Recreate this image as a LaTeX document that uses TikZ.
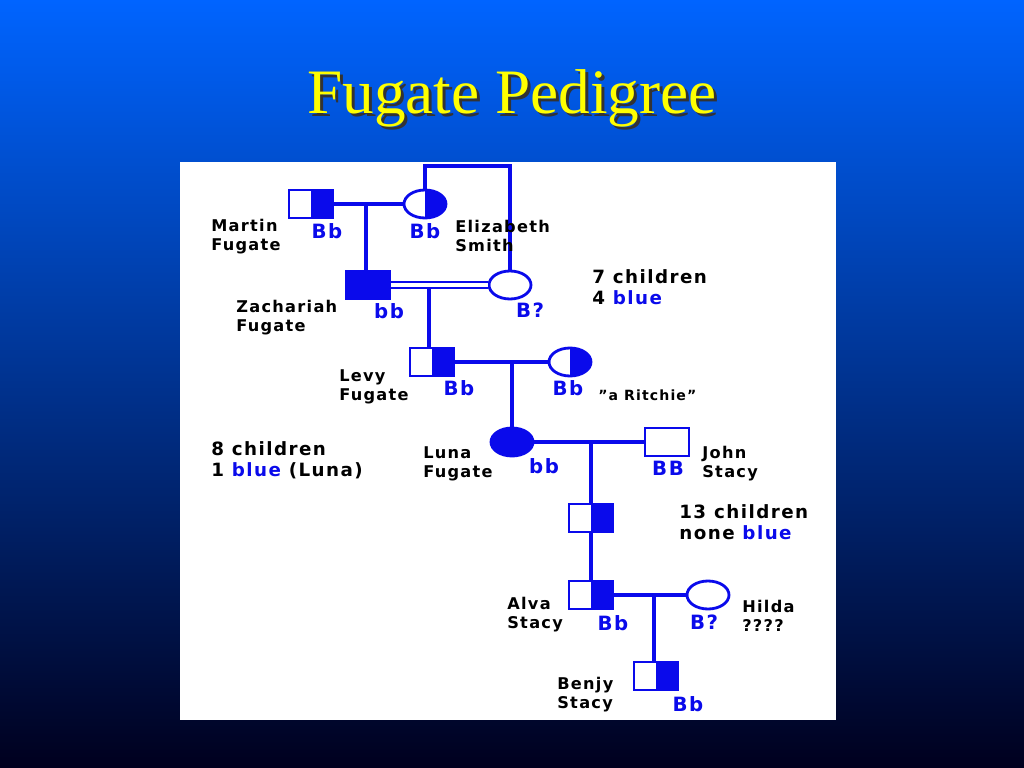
\documentclass[tikz,border=0pt]{standalone}
\usepackage{fontspec}
\setmainfont{Liberation Serif}
\setsansfont[LetterSpace=8]{DejaVu Sans}
\usetikzlibrary{positioning}
\usetikzlibrary{shapes.geometric}
\definecolor{pblue}{RGB}{10,10,235}
\definecolor{titley}{RGB}{255,255,0}
\tikzstyle{male} = [draw=pblue, rectangle, line width=2pt, minimum width=1.1cm, minimum height=0.7cm, inner sep=0]
\tikzstyle{female} = [draw=pblue, ellipse, line width=2pt, minimum width=1.05cm, minimum height=0.7cm, inner sep=0]
\tikzstyle{carrier} = [path picture={\fill[pblue] (path picture bounding box.north) rectangle (path picture bounding box.south east);}]
\tikzstyle{affected} = [fill=pblue]
\tikzstyle{who} = [anchor=west, align=left, font=\sffamily\bfseries\fontsize{11.5}{13.5}\selectfont, inner sep=0]
\tikzstyle{gene} = [text=pblue, font=\sffamily\bfseries\fontsize{14}{14}\selectfont, inner sep=0]
\tikzstyle{link} = [draw=pblue, line width=3pt]

\begin{document}
\begin{tikzpicture}[x=0.025cm, y=-0.025cm]
    \useasboundingbox (0,0) rectangle (1024,768);
    \shade[top color={rgb,255:red,0;green,100;blue,255}, middle color={rgb,255:red,0;green,50;blue,190}, bottom color={rgb,255:red,0;green,0;blue,30}] (0,0) rectangle (1024,768);
    \node[text=black!80, font=\fontsize{45}{50}\selectfont] (title_shadow) at (515,101) {Fugate Pedigree};
    \node[text=titley, font=\fontsize{45}{50}\selectfont] (title) at (512,98) {Fugate Pedigree};
    \fill[white] (180,162) rectangle (836,720);

    % generation 1
    \node[male, carrier] (martin) at (311,204) {};
    \node[female, carrier] (eliz) at (425,204) {};
    \node[male, affected] (zach) at (368,285) {};
    \node[female] (bq) at (510,285) {};
    \coordinate (mf) at (366,204);
    \coordinate (loop) at (467,166);
    \draw[link] (martin.east) -- (eliz.west);
    \draw[link] (mf) -- (mf |- zach.north);
    \draw[link] (eliz.north) |- (loop) -| (bq.north);
    \draw[draw=pblue, double, double distance=0.08cm, line width=0.06cm] (zach.east) -- (bq.west);

    % generation 2
    \node[male, carrier] (levy) at (432,362) {};
    \node[female, carrier] (ritchie) at (570,362) {};
    \coordinate (zb) at (429,287);
    \draw[link] (zb) -- (zb |- levy.north);
    \draw[link] (levy.east) -- (ritchie.west);

    % generation 3
    \node[female, affected] (luna) at (512,442) {};
    \node[male] (john) at (667,442) {};
    \coordinate (lr) at (512,362);
    \draw[link] (lr) -- (luna.north);
    \draw[link] (luna.east) -- (john.west);

    % generation 4 and on
    \node[male, carrier] (child) at (591,518) {};
    \node[male, carrier] (alva) at (591,595) {};
    \node[female] (hilda) at (708,595) {};
    \node[male, carrier] (benjy) at (656,676) {};
    \coordinate (lj) at (591,442);
    \coordinate (ah) at (654,595);
    \draw[link] (lj) -- (child.north);
    \draw[link] (child.south) -- (alva.north);
    \draw[link] (alva.east) -- (hilda.west);
    \draw[link] (ah) -- (ah |- benjy.north);

    % labels
    \node[who] (martin_l) at (211,237) {Martin\\Fugate};
    \node[gene] (martin_g) at (327,231) {Bb};
    \node[gene] (eliz_g) at (425,231) {Bb};
    \node[who] (eliz_l) at (455,236) {Elizabeth\\Smith};
    \node[who] (zach_l) at (236,318) {Zachariah\\Fugate};
    \node[gene] (zach_g) at (389,311) {bb};
    \node[gene] (bq_g) at (530,310) {B?};
    \node[who, font=\sffamily\bfseries\fontsize{13}{15}\selectfont] (seven) at (592,287) {7 children\\4 \textcolor{pblue}{blue}};
    \node[who] (levy_l) at (339,387) {Levy\\Fugate};
    \node[gene] (levy_g) at (459,388) {Bb};
    \node[gene] (ritchie_g) at (568,388) {Bb};
    \node[who, font=\sffamily\bfseries\fontsize{10}{11}\selectfont] (ritchie_l) at (598,395) {"a Ritchie"};
    \node[who, font=\sffamily\bfseries\fontsize{13}{15}\selectfont] (eight) at (211,460) {8 children\\1 \textcolor{pblue}{blue} (Luna)};
    \node[who] (luna_l) at (423,464) {Luna\\Fugate};
    \node[gene] (luna_g) at (544,466) {bb};
    \node[gene] (john_g) at (668,468) {BB};
    \node[who] (john_l) at (702,464) {John\\Stacy};
    \node[who, font=\sffamily\bfseries\fontsize{13}{15}\selectfont] (thirteen) at (679,522) {13 children\\none \textcolor{pblue}{blue}};
    \node[who] (alva_l) at (507,615) {Alva\\Stacy};
    \node[gene] (alva_g) at (613,623) {Bb};
    \node[gene] (hilda_g) at (704,622) {B?};
    \node[who] (hilda_l) at (742,616) {Hilda\\????};
    \node[who] (benjy_l) at (557,695) {Benjy\\Stacy};
    \node[gene] (benjy_g) at (688,704) {Bb};
\end{tikzpicture}
\end{document}
